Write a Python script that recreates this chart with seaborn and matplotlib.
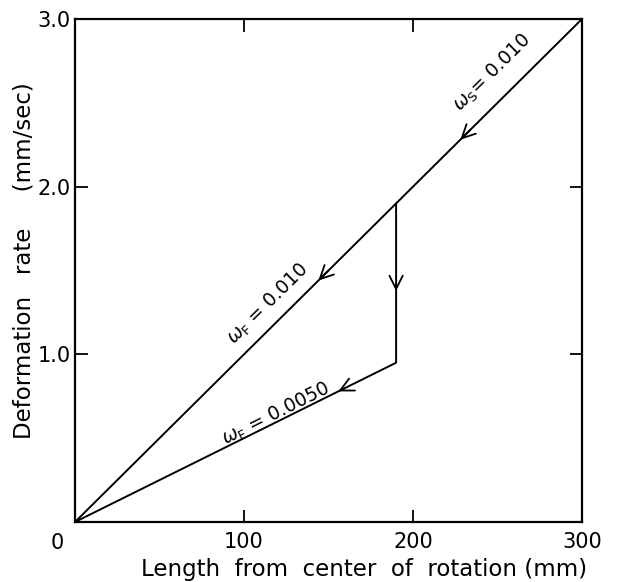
import matplotlib
matplotlib.use("Agg")
import matplotlib.pyplot as plt
import seaborn as sns
import pandas as pd

# main line, omega = 0.010 (from 300 mm back to the centre)
main_x = [300, 0]
main_y = [3.0, 0.0]
# switch path: drop at 190 mm, then omega_F = 0.0050 back to the centre
switch_x = [190, 190, 0]
switch_y = [1.9, 0.95, 0.0]

x_ticks = [100, 200, 300]
x_ticklabels = ["100", "200", "300"]
y_ticks = [1.0, 2.0, 3.0]
y_ticklabels = ["1.0", "2.0", "3.0"]

labels = [r"$\omega_{\mathrm{S}}$= 0.010", r"$\omega_{\mathrm{F}}$ = 0.010", r"$\omega_{\mathrm{F}}$ = 0.0050"]
label_x = [247, 114, 119]
label_y = [2.68, 1.30, 0.645]

sns.set_style("ticks")
plt.rcParams["font.family"] = ["DejaVu Sans"]
plt.rcParams["mathtext.fontset"] = "dejavusans"
plt.rcParams["text.color"] = "black"
plt.rcParams["axes.labelcolor"] = "black"

fig = plt.figure(figsize=(6.19, 5.82), dpi=100)
ax = fig.add_axes([75 / 619, 60 / 582, 507 / 619, 503 / 582])

df_main = pd.DataFrame({"x": main_x, "y": main_y})
df_sw = pd.DataFrame({"x": switch_x, "y": switch_y})
sns.lineplot(data=df_main, x="x", y="y", sort=False, estimator=None, color="black", lw=1.4, ax=ax)
sns.lineplot(data=df_sw, x="x", y="y", sort=False, estimator=None, color="black", lw=1.4, ax=ax)

ax.set_xlim(0, 300)
ax.set_ylim(0, 3.0)


def arrow_on(x0, y0, x1, y1, t):
    # chevron head at fraction t from (x0,y0) toward (x1,y1)
    px = x0 + (x1 - x0) * t
    py = y0 + (y1 - y0) * t
    bx = x0 + (x1 - x0) * (t - 0.02)
    by = y0 + (y1 - y0) * (t - 0.02)
    ax.annotate("", xy=(px, py), xytext=(bx, by),
                arrowprops=dict(arrowstyle="->", color="black", lw=1.3,
                                mutation_scale=24, shrinkA=0, shrinkB=0))


arrow_on(main_x[0], main_y[0], main_x[1], main_y[1], 0.24)
arrow_on(main_x[0], main_y[0], main_x[1], main_y[1], 0.52)
arrow_on(switch_x[0], switch_y[0], switch_x[1], switch_y[1], 0.55)
arrow_on(switch_x[1], switch_y[1], switch_x[2], switch_y[2], 0.18)

rots = [44.8, 44.8, 26.5]
for t, lx, ly, r in zip(labels, label_x, label_y, rots):
    ax.text(lx, ly, t, rotation=r, rotation_mode="anchor", ha="center", va="center",
            fontsize=13.5)

ax.set_xticks(x_ticks)
ax.set_xticklabels(x_ticklabels)
ax.set_yticks(y_ticks)
ax.set_yticklabels(y_ticklabels)
ax.tick_params(direction="in", length=9, width=1.3, labelsize=15, top=True, right=True,
               pad=7, colors="black")
ax.tick_params(axis="y", pad=3)
ax.text(-10.5, -0.065, "0", ha="center", va="top", fontsize=15)

for s in ax.spines.values():
    s.set_linewidth(1.6)
    s.set_color("black")

ax.set_xlabel("Length  from  center  of  rotation (mm)", fontsize=16.5)
ax.xaxis.set_label_coords(0.57, -0.072)
ax.xaxis.label.set_va("top")
ax.set_ylabel("Deformation   rate     (mm/sec)", fontsize=16.5)
ax.yaxis.set_label_coords(-0.077, 0.52)

fig.savefig("out.png", dpi=100)
